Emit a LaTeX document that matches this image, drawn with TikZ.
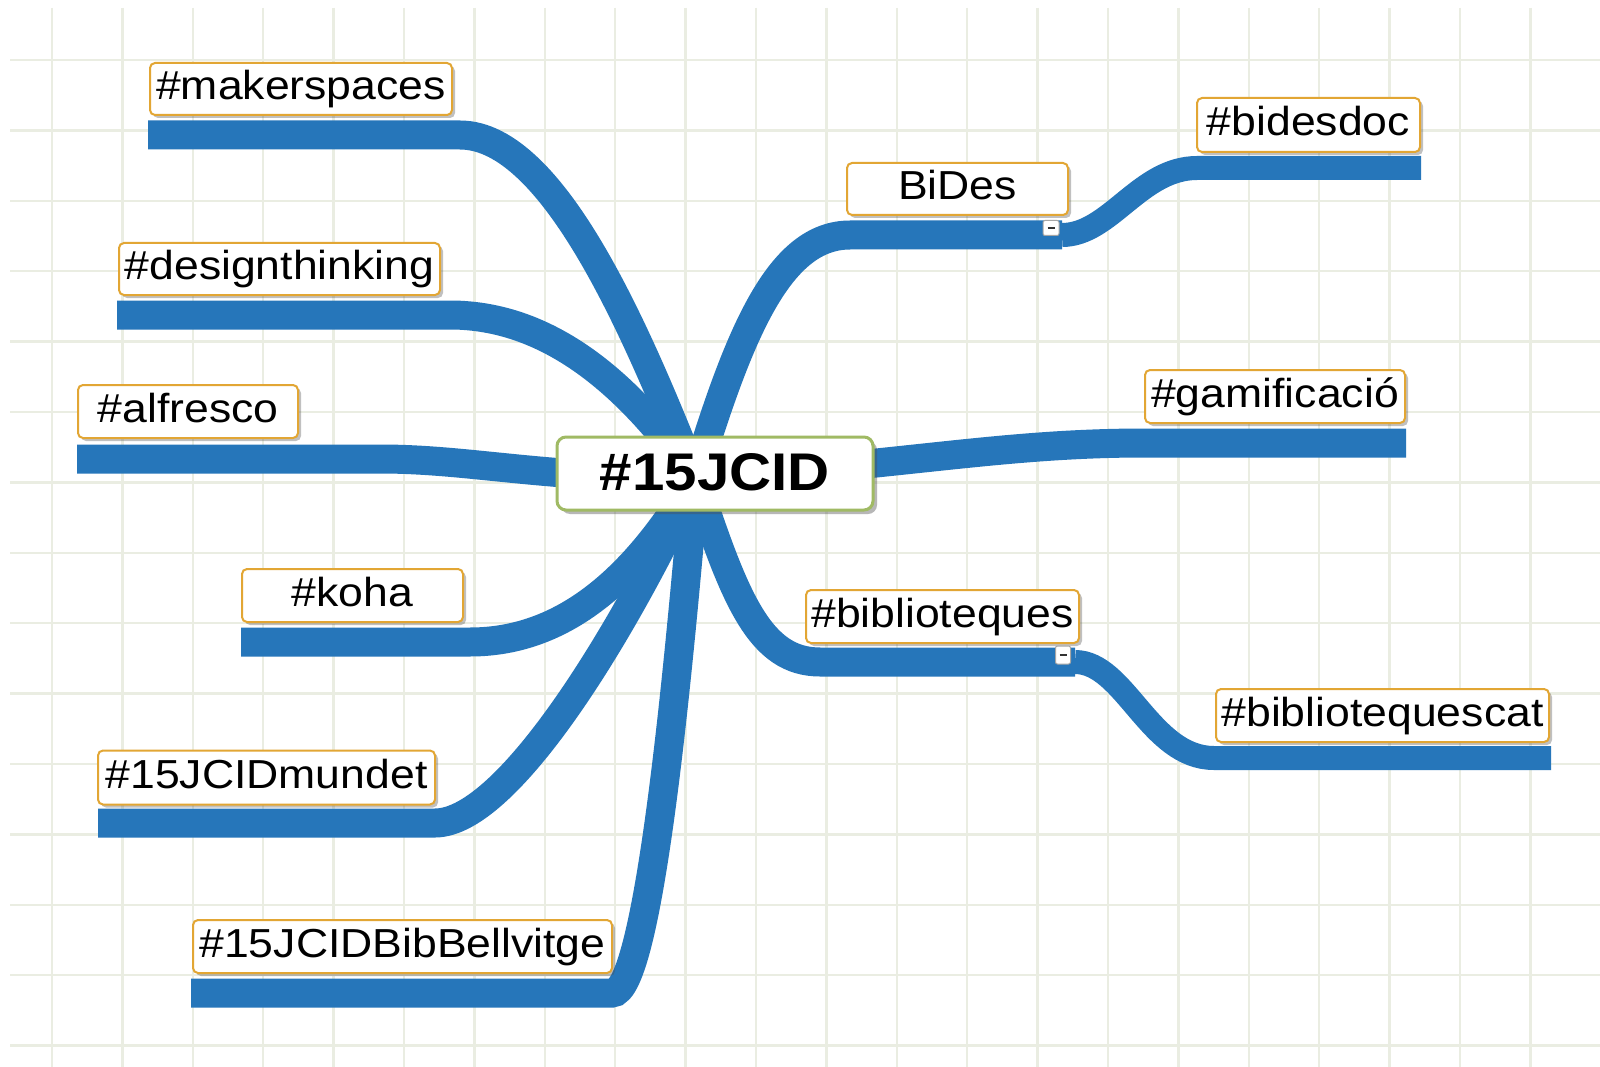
\documentclass[tikz,border=0pt]{standalone}
\usepackage{fontspec}
\setmainfont{Liberation Sans}
\usepackage{graphicx}
\usetikzlibrary{shadows}
\definecolor{gridc}{RGB}{234,237,226}
\definecolor{branchc}{RGB}{38,118,186}
\definecolor{lblborder}{RGB}{226,166,52}
\definecolor{rootborder}{RGB}{160,186,100}
\newcommand{\lbltext}[1]{\scalebox{1.1}[1]{\fontsize{40.5}{48}\selectfont #1}}
\newcommand{\roottext}[1]{\scalebox{1.1}[1]{\fontsize{53}{60}\selectfont\bfseries #1}}
\begin{document}
\begin{tikzpicture}[x=1pt,y=-1pt,
  gridline/.style={draw=gridc, line width=2.5pt},
  branch/.style={draw=branchc, line width=29pt, line cap=butt},
  subbranch/.style={draw=branchc, line width=24pt, line cap=butt},
  lbl/.style={draw=lblborder, line width=2pt, fill=white, rounded corners=5pt,
    inner sep=0pt, text height=30pt, text depth=9pt,
    drop shadow={shadow xshift=3pt, shadow yshift=-3pt, opacity=0.35, fill=black!70}},
  rootbox/.style={draw=rootborder, line width=3pt, fill=white, rounded corners=9pt,
    inner sep=0pt, text height=38pt, text depth=5pt,
    drop shadow={shadow xshift=4pt, shadow yshift=-4pt, opacity=0.4, fill=black!70}},
  marker/.style={draw=black!35, line width=1pt, fill=white, rounded corners=2pt, inner sep=0pt},
  minusdash/.style={draw=black!80, line width=2.2pt}
]
\useasboundingbox (0,0) rectangle (1600,1067);
\fill[white] (0,0) rectangle (1600,1067);
% grid
\foreach \i in {0,...,21} { \draw[gridline] ({52+70.4*\i},8) -- ({52+70.4*\i},1067); }
\foreach \j in {0,...,14} { \draw[gridline] (10,{60+70.4*\j}) -- (1600,{60+70.4*\j}); }

% hub and bar coordinates
\coordinate (hub) at (695,478);
\coordinate (mkA) at (148,135);  \coordinate (mkB) at (460,135);
\coordinate (dtA) at (117,315);  \coordinate (dtB) at (450,315);
\coordinate (alA) at (77,459);   \coordinate (alB) at (380,459);
\coordinate (koA) at (241,642);  \coordinate (koB) at (470,642);
\coordinate (muA) at (98,823);   \coordinate (muB) at (435,823);
\coordinate (bbA) at (191,993);  \coordinate (bbB) at (612,993);
\coordinate (bdA) at (850,235);  \coordinate (bdB) at (1062,235);
\coordinate (dcA) at (1197,168); \coordinate (dcB) at (1421,168);
\coordinate (gaA) at (1145,443); \coordinate (gaB) at (1406,443);
\coordinate (biA) at (820,662);  \coordinate (biB) at (1075,662);
\coordinate (bcA) at (1214,758); \coordinate (bcB) at (1551,758);

% level-1 branches
\draw[branch] (mkA) -- (mkB) .. controls (555,135) and (640,340) .. (hub);
\draw[branch] (dtA) -- (dtB) .. controls (560,315) and (640,400) .. (hub);
\draw[branch] (alA) -- (alB) .. controls (470,459) and (540,478) .. (hub);
\draw[branch] (koA) -- (koB) .. controls (570,642) and (640,570) .. (hub);
\draw[branch] (muA) -- (muB) .. controls (510,823) and (630,620) .. (hub);
\draw[branch] (bbA) -- (bbB) .. controls (650,993) and (680,650) .. (hub);
\draw[branch] (hub) .. controls (740,330) and (780,235) .. (bdA) -- (bdB);
\draw[branch] (hub) .. controls (900,466) and (1000,443) .. (gaA) -- (gaB);
\draw[branch] (hub) .. controls (735,600) and (760,662) .. (biA) -- (biB);
% level-2 branches
\draw[subbranch] (bdB) .. controls (1110,235) and (1140,168) .. (dcA) -- (dcB);
\draw[subbranch] (biB) .. controls (1125,662) and (1150,758) .. (bcA) -- (bcB);

% nodes
\node[rootbox, minimum width=316pt, minimum height=73pt] (root) at (715,473.5) {\roottext{\#15JCID}};
\node[lbl, minimum width=302pt, minimum height=52pt] (mk) at (301,89) {\lbltext{\#makerspaces}};
\node[lbl, minimum width=321pt, minimum height=52pt] (dt) at (279.5,269) {\lbltext{\#designthinking}};
\node[lbl, minimum width=220pt, minimum height=53pt] (al) at (188,411.5) {\lbltext{\#alfresco}};
\node[lbl, minimum width=221pt, minimum height=53pt] (ko) at (352.5,595.5) {\lbltext{\#koha}};
\node[lbl, minimum width=337pt, minimum height=54pt] (mu) at (266.5,777.5) {\lbltext{\#15JCIDmundet}};
\node[lbl, minimum width=419pt, minimum height=53pt] (bb) at (402.5,946.5) {\lbltext{\#15JCIDBibBellvitge}};
\node[lbl, minimum width=221pt, minimum height=52pt] (bd) at (957.5,189) {\lbltext{BiDes}};
\node[lbl, minimum width=223pt, minimum height=54pt] (dc) at (1308.5,125) {\lbltext{\#bidesdoc}};
\node[lbl, minimum width=260pt, minimum height=53pt] (ga) at (1275,396.5) {\lbltext{\#gamificació}};
\node[lbl, minimum width=273pt, minimum height=53pt] (bi) at (942.5,616.5) {\lbltext{\#biblioteques}};
\node[lbl, minimum width=333pt, minimum height=53pt] (bc) at (1382.5,715.5) {\lbltext{\#bibliotequescat}};

% collapse markers
\node[marker, minimum width=16pt, minimum height=15pt] (m1) at (1051,228) {};
\draw[minusdash] ([xshift=-3.5pt]m1.center) -- ([xshift=3.5pt]m1.center);
\node[marker, minimum width=15pt, minimum height=18pt] (m2) at (1063,655) {};
\draw[minusdash] ([xshift=-3.5pt]m2.center) -- ([xshift=3.5pt]m2.center);
\end{tikzpicture}
\end{document}
